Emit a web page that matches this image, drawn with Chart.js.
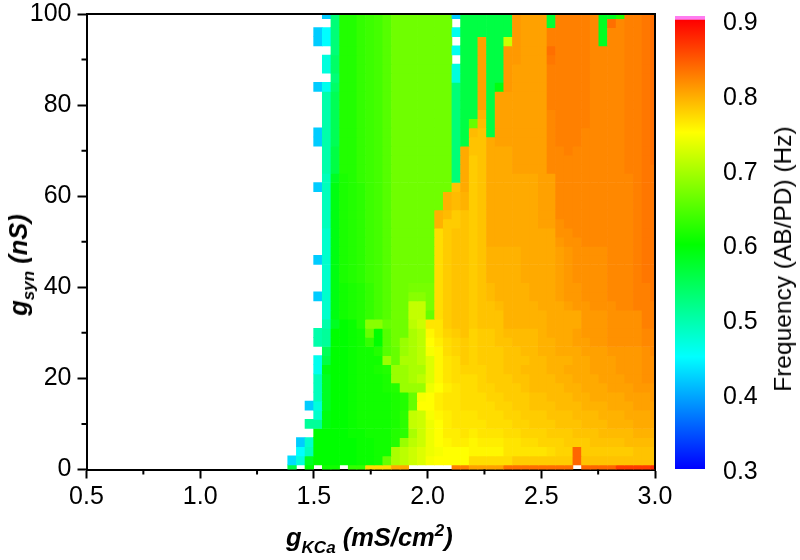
<!DOCTYPE html>
<html>
<head>
<meta charset="utf-8">
<script src="https://cdn.jsdelivr.net/npm/chart.js@4"></script>
<style>
  html, body { margin: 0; padding: 0; background: #fff; }
  #wrap { position: relative; width: 800px; height: 560px; overflow: hidden; font-family: "Liberation Sans", sans-serif; }
  canvas { position: absolute; top: 0; left: 0; }
  #barChart { left: 660px; }
  .axis_title { position: absolute; font-weight: bold; font-style: italic; font-size: 25.5px; white-space: nowrap; color: #000; line-height: 30px; }
  .axis_title sub { font-size: 17px; line-height: 0; vertical-align: -7px; }
  .axis_title sup { font-size: 17px; line-height: 0; vertical-align: 10px; }
  #xTitle { left: 286px; top: 522px; }
  #yTitle { left: 18px; top: 265px; transform: translate(-50%, -50%) rotate(-90deg); }
  #barTitle { position: absolute; left: 783px; top: 259px; font-size: 24.5px; line-height: 30px; white-space: nowrap; color: #000; transform: translate(-50%, -50%) rotate(-90deg); }
</style>
</head>
<body>
<div id="wrap">
  <canvas id="mapChart" width="800" height="560"></canvas>
  <canvas id="barChart" width="140" height="560"></canvas>
  <div class="axis_title" id="xTitle">g<sub>KCa</sub> (mS/cm<sup>2</sup>)</div>
  <div class="axis_title" id="yTitle">g<sub>syn</sub> (nS)</div>
  <div id="barTitle">Frequency (AB/PD) (Hz)</div>
</div>
<script>
const n = null;
const g_kca = [1.404,1.442,1.48,1.518,1.556,1.594,1.632,1.67,1.708,1.746,1.784,1.822,1.86,1.898,1.936,1.974,2.012,2.05,2.088,2.126,2.164,2.202,2.24,2.278,2.316,2.354,2.392,2.43,2.468,2.506,2.544,2.582,2.62,2.658,2.696,2.734,2.772,2.81,2.848,2.886,2.924,2.962,3.0];

// frequency per row, one array per g_syn value, columns follow g_kca
const syn100 = [n,n,n,n,.42,.53,.62,.62,.63,.635,.64,.65,.665,.665,.665,.665,.665,.665,.665,.42,.56,.56,.56,.56,.56,.56,.81,.805,.805,.805,.57,.825,.825,.825,.825,.82,.58,.58,.62,.825,.825,.83,.835];
const syn98 = [n,n,n,n,n,.53,.62,.62,.63,.635,.64,.65,.665,.665,.665,.665,.665,.665,.665,n,.56,.56,.56,.56,.56,.56,.81,.805,.805,.805,.57,.825,.825,.825,.825,.82,.58,.835,.82,.825,.825,.83,.835];
const syn96 = [n,n,n,.42,.45,.53,.62,.62,.63,.635,.64,.65,.665,.665,.665,.665,.665,.665,.665,.46,.56,.56,.56,.56,.56,.56,.81,.805,.805,.805,.825,.825,.825,.825,.825,.82,.58,.82,.82,.825,.825,.83,.835];
const syn94 = [n,n,n,.42,.45,.53,.62,.62,.63,.635,.64,.65,.665,.665,.665,.665,.665,.665,.665,n,.56,.56,.805,.56,.56,.72,.81,.805,.805,.805,.825,.825,.825,.825,.825,.82,.58,.82,.82,.825,.825,.83,.835];
const syn92 = [n,n,n,n,n,.53,.62,.62,.63,.635,.64,.65,.665,.665,.665,.665,.665,.665,.665,.46,.56,.56,.805,.56,.56,.81,.81,.805,.805,.805,.835,.825,.825,.825,.825,.82,.82,.82,.82,.825,.825,.83,.835];
const syn90 = [n,n,n,n,.47,.54,.62,.62,.63,.635,.64,.65,.665,.665,.665,.665,.665,.665,.665,n,.56,.56,.805,.56,.56,.81,.81,.805,.805,.805,.83,.825,.825,.825,.825,.82,.82,.82,.82,.825,.825,.83,.835];
const syn88 = [n,n,n,n,.47,.54,.62,.62,.63,.635,.64,.65,.665,.665,.665,.665,.665,.665,.665,.47,.56,.56,.805,.56,.56,.81,.805,.805,.805,.805,.825,.825,.825,.825,.825,.82,.82,.82,.82,.825,.825,.83,.835];
const syn86 = [n,n,n,n,n,.53,.62,.62,.63,.635,.64,.65,.665,.665,.665,.665,.665,.665,.665,.47,.56,.56,.805,.56,.56,.81,.805,.805,.805,.805,.825,.825,.825,.825,.825,.82,.82,.82,.82,.825,.825,.83,.835];
const syn84 = [n,n,n,.42,.46,.54,.62,.62,.63,.635,.64,.65,.665,.665,.665,.665,.665,.665,.665,.53,.56,.56,.805,.56,.59,.81,.805,.805,.805,.805,.825,.825,.825,.825,.825,.82,.82,.82,.82,.825,.825,.83,.835];
const syn82 = [n,n,n,n,.5,.55,.62,.62,.63,.635,.64,.65,.665,.665,.665,.665,.665,.665,.665,.53,.56,.56,.805,.56,.805,.805,.805,.805,.805,.805,.825,.825,.825,.825,.825,.82,.82,.82,.82,.825,.825,.83,.835];
const syn80 = [n,n,n,n,.5,.55,.62,.62,.63,.635,.64,.65,.665,.665,.665,.665,.665,.665,.665,.53,.56,.56,.805,.56,.805,.805,.805,.805,.805,.805,.825,.825,.825,.825,.825,.82,.82,.82,.82,.825,.825,.83,.835];
const syn78 = [n,n,n,n,.5,.55,.62,.62,.63,.635,.64,.65,.665,.665,.665,.665,.665,.665,.665,.53,.56,.56,.795,.56,.805,.805,.805,.805,.805,.805,.82,.825,.825,.825,.825,.82,.82,.82,.82,.825,.825,.83,.835];
const syn76 = [n,n,n,n,.5,.55,.62,.62,.63,.635,.64,.65,.665,.665,.665,.665,.665,.665,.665,.53,.56,.66,.79,.56,.805,.805,.805,.805,.805,.805,.82,.825,.825,.825,.825,.82,.82,.82,.82,.825,.825,.83,.835];
const syn74 = [n,n,n,.42,.5,.55,.62,.62,.63,.635,.64,.65,.665,.665,.665,.665,.665,.665,.665,.53,.56,.79,.785,.56,.805,.805,.805,.805,.805,.805,.82,.825,.825,.825,.82,.82,.82,.82,.82,.825,.825,.83,.835];
const syn72 = [n,n,n,.42,.5,.55,.62,.62,.63,.635,.64,.65,.665,.665,.665,.665,.665,.665,.665,.53,.56,.785,.785,.80,.805,.805,.805,.805,.805,.805,.82,.825,.825,.825,.82,.82,.82,.82,.82,.825,.825,.83,.835];
const syn70 = [n,n,n,n,.5,.56,.62,.62,.63,.635,.64,.65,.665,.665,.665,.665,.665,.665,.665,.53,.80,.785,.785,.80,.80,.80,.805,.805,.805,.805,.82,.82,.825,.82,.82,.82,.82,.82,.82,.825,.825,.83,.835];
const syn68 = [n,n,n,n,.5,.56,.62,.62,.63,.635,.64,.65,.665,.665,.665,.665,.665,.665,.665,.53,.80,.78,.785,.80,.80,.80,.805,.805,.805,.805,.82,.82,.82,.82,.82,.82,.82,.82,.82,.825,.825,.83,.835];
const syn66 = [n,n,n,n,.5,.56,.62,.62,.63,.635,.64,.65,.665,.665,.665,.665,.665,.665,.665,.53,.80,.78,.785,.80,.80,.80,.805,.805,.805,.805,.82,.82,.82,.82,.82,.82,.82,.82,.82,.825,.825,.83,.83];
const syn64 = [n,n,n,n,.49,.58,.615,.62,.63,.635,.64,.65,.665,.665,.665,.665,.665,.665,.665,.53,.80,.78,.785,.80,.80,.80,.80,.80,.80,.805,.805,.82,.82,.82,.82,.82,.82,.82,.82,.82,.825,.83,.83];
const syn62 = [n,n,n,.42,.49,.59,.615,.62,.625,.635,.64,.65,.665,.665,.665,.665,.665,.665,.665,.785,.80,.78,.785,.80,.80,.80,.80,.80,.80,.805,.805,.82,.82,.82,.82,.82,.82,.82,.82,.82,.825,.83,.83];
const syn60 = [n,n,n,n,.49,.59,.615,.62,.625,.635,.64,.65,.665,.665,.665,.665,.665,.665,.795,.79,.795,.78,.785,.80,.80,.80,.80,.80,.80,.805,.805,.82,.82,.82,.82,.82,.82,.82,.82,.82,.825,.83,.83];
const syn58 = [n,n,n,n,.49,.59,.615,.62,.625,.635,.64,.65,.665,.665,.665,.665,.665,.665,.795,.79,.795,.78,.785,.80,.80,.80,.80,.80,.80,.805,.805,.82,.82,.82,.82,.82,.82,.82,.82,.82,.825,.83,.83];
const syn56 = [n,n,n,n,.49,.59,.615,.62,.625,.635,.64,.65,.665,.665,.665,.665,.665,.795,.79,.78,.785,.78,.785,.80,.80,.80,.80,.80,.80,.805,.805,.82,.82,.82,.82,.82,.82,.82,.82,.82,.825,.83,.83];
const syn54 = [n,n,n,n,.49,.59,.615,.62,.625,.635,.64,.65,.665,.665,.665,.665,.665,.795,.78,.78,.785,.78,.785,.80,.80,.80,.80,.80,.80,.805,.805,.815,.82,.82,.82,.82,.82,.82,.82,.82,.825,.83,.83];
const syn52 = [n,n,n,n,.48,.59,.615,.62,.625,.635,.64,.65,.665,.665,.665,.665,.665,.77,.78,.785,.785,.78,.785,.80,.80,.80,.80,.80,.80,.80,.80,.815,.815,.82,.82,.82,.82,.82,.82,.82,.825,.83,.83];
const syn50 = [n,n,n,n,.48,.59,.615,.62,.625,.635,.64,.65,.665,.665,.665,.665,.665,.77,.78,.785,.785,.78,.785,.80,.80,.80,.80,.80,.80,.80,.80,.81,.815,.815,.82,.82,.82,.82,.82,.82,.825,.83,.83];
const syn48 = [n,n,n,n,.48,.59,.615,.62,.625,.635,.64,.65,.665,.665,.665,.665,.665,.77,.78,.785,.785,.78,.785,.795,.795,.795,.795,.80,.80,.80,.80,.805,.81,.815,.815,.815,.815,.82,.82,.82,.825,.83,.83];
const syn46 = [n,n,n,.42,.48,.59,.615,.62,.625,.635,.64,.65,.665,.665,.665,.665,.665,.77,.78,.785,.785,.78,.785,.795,.795,.795,.795,.80,.80,.80,.80,.805,.81,.815,.815,.815,.815,.82,.82,.82,.825,.83,.83];
const syn44 = [n,n,n,n,.48,.59,.615,.62,.625,.635,.64,.65,.665,.665,.665,.665,.665,.77,.78,.785,.785,.78,.785,.795,.795,.795,.795,.80,.80,.80,.80,.805,.81,.815,.815,.815,.815,.82,.82,.82,.825,.83,.83];
const syn42 = [n,n,n,n,.48,.59,.615,.62,.625,.635,.64,.65,.665,.665,.665,.665,.665,.77,.78,.785,.785,.78,.785,.795,.795,.795,.795,.80,.80,.80,.80,.805,.81,.815,.815,.815,.815,.82,.82,.82,.825,.83,.83];
const syn40 = [n,n,n,n,.48,.59,.61,.615,.62,.63,.64,.65,.665,.665,.67,.67,.67,.77,.78,.785,.785,.78,.785,.79,.795,.795,.795,.795,.80,.80,.80,.805,.81,.81,.815,.815,.815,.82,.82,.82,.825,.825,.83];
const syn38 = [n,n,n,.42,.48,.59,.61,.615,.62,.63,.64,.65,.665,.665,.68,.68,.67,.77,.78,.785,.785,.78,.785,.79,.795,.795,.795,.795,.80,.80,.80,.805,.81,.81,.815,.815,.815,.82,.82,.82,.825,.825,.83];
const syn36 = [n,n,n,n,.48,.59,.61,.615,.62,.63,.64,.65,.665,.665,.715,.715,.67,.77,.78,.785,.785,.78,.785,.785,.79,.795,.795,.795,.795,.80,.80,.80,.805,.81,.81,.815,.815,.815,.82,.82,.825,.825,.825];
const syn34 = [n,n,n,n,.48,.59,.61,.615,.62,.63,.64,.65,.665,.665,.715,.715,.66,.77,.78,.785,.785,.78,.785,.785,.785,.795,.795,.795,.795,.795,.80,.80,.80,.80,.81,.81,.81,.815,.815,.815,.815,.825,.825];
const syn32 = [n,n,n,n,.5,.58,.60,.605,.62,.68,.68,.66,.665,.665,.71,.72,.765,.765,.78,.785,.785,.78,.785,.785,.785,.795,.795,.795,.795,.795,.80,.80,.80,.80,.81,.81,.81,.815,.815,.815,.815,.825,.825];
const syn30 = [n,n,n,.5,.51,.60,.60,.605,.61,.66,.60,.65,.665,.665,.70,.71,.755,.765,.775,.78,.785,.775,.78,.78,.785,.79,.79,.79,.79,.795,.80,.80,.80,.805,.81,.81,.81,.815,.815,.815,.815,.82,.82];
const syn28 = [n,n,n,.5,.51,.60,.60,.605,.61,.63,.60,.65,.665,.69,.70,.71,.75,.76,.77,.775,.78,.775,.78,.78,.785,.785,.79,.79,.79,.795,.795,.80,.80,.805,.805,.81,.81,.815,.815,.815,.815,.82,.82];
const syn26 = [n,n,n,n,.55,.60,.60,.605,.61,.61,.62,.65,.66,.69,.70,.71,.745,.755,.77,.775,.78,.775,.78,.78,.78,.785,.785,.79,.79,.795,.795,.80,.80,.80,.805,.805,.805,.81,.81,.81,.81,.815,.82];
const syn24 = [n,n,n,.46,.56,.60,.60,.605,.61,.61,.61,.69,.66,.70,.70,.71,.73,.755,.765,.77,.78,.775,.78,.78,.78,.785,.785,.785,.79,.79,.795,.795,.795,.80,.80,.805,.805,.805,.81,.81,.81,.815,.815];
const syn22 = [n,n,n,.46,.59,.60,.60,.605,.61,.61,.615,.62,.69,.69,.70,.70,.73,.755,.765,.77,.775,.775,.775,.78,.78,.785,.785,.79,.79,.79,.795,.795,.80,.80,.80,.805,.805,.805,.81,.81,.81,.815,.815];
const syn20 = [n,n,n,.49,.58,.60,.60,.605,.61,.61,.61,.615,.69,.69,.70,.71,.73,.755,.765,.77,.77,.77,.775,.78,.78,.78,.785,.785,.79,.79,.79,.795,.795,.80,.80,.80,.805,.805,.805,.81,.81,.815,.815];
const syn18 = [n,n,n,.49,.58,.60,.60,.605,.61,.61,.61,.615,.62,.69,.69,.69,.74,.75,.76,.765,.77,.77,.775,.775,.78,.78,.78,.785,.79,.79,.79,.79,.795,.795,.80,.80,.80,.805,.805,.805,.81,.81,.81];
const syn16 = [n,n,n,.49,.58,.60,.60,.605,.61,.61,.61,.61,.615,.62,.66,.745,.75,.76,.765,.765,.77,.77,.77,.775,.775,.78,.78,.78,.785,.785,.79,.79,.79,.795,.795,.80,.80,.80,.80,.805,.805,.805,.81];
const syn14 = [n,n,.42,.47,.58,.60,.60,.605,.61,.61,.61,.61,.615,.62,.66,.75,.75,.76,.765,.765,.77,.77,.77,.77,.775,.775,.78,.78,.785,.785,.785,.79,.79,.79,.795,.795,.795,.80,.80,.80,.805,.805,.805];
const syn12 = [n,n,n,.48,.59,.60,.60,.605,.61,.61,.61,.61,.615,.625,.715,.72,.745,.755,.76,.765,.765,.765,.77,.77,.77,.775,.775,.78,.78,.78,.785,.785,.785,.79,.79,.79,.795,.795,.795,.80,.80,.80,.805];
const syn10 = [n,n,.51,.51,.59,.60,.60,.605,.61,.61,.61,.61,.615,.625,.715,.72,.74,.75,.76,.765,.765,.765,.765,.77,.77,.77,.775,.775,.78,.78,.78,.785,.785,.785,.79,.79,.79,.795,.795,.795,.80,.80,.80];
const syn8 = [n,n,n,.60,.60,.60,.60,.605,.605,.61,.61,.61,.62,.625,.70,.72,.74,.75,.76,.76,.765,.76,.765,.765,.765,.77,.77,.775,.775,.775,.78,.78,.78,.785,.785,.785,.79,.79,.79,.79,.795,.795,.795];
const syn6 = [n,.42,.48,.60,.60,.60,.60,.60,.605,.605,.61,.61,.62,.69,.71,.72,.74,.75,.755,.76,.76,.755,.76,.76,.76,.765,.765,.77,.77,.775,.775,.775,.78,.78,.78,.785,.785,.785,.785,.79,.79,.79,.79];
const syn4 = [n,.45,.49,.60,.60,.60,.60,.60,.605,.605,.61,.61,.70,.71,.72,.73,.74,.745,.75,.75,.75,.755,.755,.755,.755,.765,.765,.765,.765,.765,.77,.775,.775,.84,.78,.78,.78,.78,.78,.78,.785,.785,.785];
const syn2 = [.43,.47,.58,.60,.60,.60,.60,.60,.605,.605,.61,.66,.70,.71,.72,.73,.745,.75,.75,.75,.75,.77,.77,.77,.77,.77,.78,.78,.78,.78,.78,.78,.78,.84,.785,.785,.785,.785,.785,.785,.785,.785,.785];
const syn0 = [.56,n,.60,n,.61,.61,n,.63,.63,.77,.77,.77,.80,.80,n,n,n,n,n,.825,.825,.805,.805,.805,.805,.835,.835,.835,.835,.835,.835,.835,.835,n,.84,.84,.84,.84,.865,.865,.865,.865,.875];

const g_syn = [0,2,4,6,8,10,12,14,16,18,20,22,24,26,28,30,32,34,36,38,40,42,44,46,48,50,52,54,56,58,60,62,64,66,68,70,72,74,76,78,80,82,84,86,88,90,92,94,96,98,100];
const syn_rows = [syn0,syn2,syn4,syn6,syn8,syn10,syn12,syn14,syn16,syn18,syn20,syn22,syn24,syn26,syn28,syn30,syn32,syn34,syn36,syn38,syn40,syn42,syn44,syn46,syn48,syn50,syn52,syn54,syn56,syn58,syn60,syn62,syn64,syn66,syn68,syn70,syn72,syn74,syn76,syn78,syn80,syn82,syn84,syn86,syn88,syn90,syn92,syn94,syn96,syn98,syn100];

const x_ticks_minor = [0.75,1.25,1.75,2.25,2.75];
const y_ticks_minor = [10,30,50,70,90];
const color_stops = [0.3,0.45,0.6,0.75,0.9];
const color_list = ['#0000ff','#00ffff','#00ff00','#ffff00','#ff0000'];
const over_range = [0.9,0.9055];

function hexToRgb(hex) {
  return [1,3,5].map(i => parseInt(hex.substr(i,2),16));
}

function freqColor(v) {
  for(let i = 0; i < color_stops.length - 1; i++) {
    if(v <= color_stops[i+1]) {
      let t = (v - color_stops[i]) / (color_stops[i+1] - color_stops[i]);
      let a = hexToRgb(color_list[i]), b = hexToRgb(color_list[i+1]);
      return 'rgb(' + a.map((c,k) => Math.round(c + (b[k]-c)*t)).join(',') + ')';
    }
  }
  return color_list[color_list.length-1];
}

// floating bars, one per cell
let cells = [];
syn_rows.forEach((row, r) => {
  row.forEach((v, c) => {
    if(v !== null) cells.push({ x: g_kca[c], y: [g_syn[r]-1, g_syn[r]+1], v: v });
  });
});

const tickFont = { family: '"Liberation Sans"', size: 25 };

const frameAndMinor = {
  id: 'frameAndMinor',
  afterDraw(chart) {
    const { ctx, chartArea, scales } = chart;
    ctx.save();
    ctx.strokeStyle = '#000';
    ctx.lineWidth = 2;
    ctx.beginPath();
    ctx.moveTo(chartArea.left, chartArea.top);
    ctx.lineTo(chartArea.right, chartArea.top);
    ctx.lineTo(chartArea.right, chartArea.bottom);
    x_ticks_minor.forEach(v => {
      let px = scales.x.getPixelForValue(v);
      ctx.moveTo(px, chartArea.bottom);
      ctx.lineTo(px, chartArea.bottom + 5);
    });
    y_ticks_minor.forEach(v => {
      let py = scales.y.getPixelForValue(v);
      ctx.moveTo(chartArea.left, py);
      ctx.lineTo(chartArea.left - 5, py);
    });
    ctx.stroke();
    ctx.restore();
  }
};

new Chart(document.getElementById('mapChart'), {
  type: 'bar',
  data: {
    datasets: [{
      data: cells,
      backgroundColor: (c) => c.raw ? freqColor(c.raw.v) : 'transparent',
      borderWidth: 0,
      barPercentage: 1,
      categoryPercentage: 1
    }]
  },
  options: {
    responsive: false,
    animation: false,
    layout: { padding: { top: 14, right: 145 } },
    plugins: { legend: { display: false }, tooltip: { enabled: false } },
    scales: {
      x: {
        type: 'linear',
        offset: false,
        min: 0.5,
        max: 3,
        afterFit: (s) => { s.height = 90.5; s.paddingLeft = 0; s.paddingRight = 0; },
        ticks: { stepSize: 0.5, color: '#000', font: tickFont, padding: 4, maxRotation: 0, callback: (v) => v.toFixed(1) },
        grid: { offset: false, drawOnChartArea: false, tickLength: 9, tickColor: '#000', tickWidth: 2 },
        border: { color: '#000', width: 2 }
      },
      y: {
        min: 0,
        max: 100,
        afterFit: (s) => { s.width = 86.5; s.paddingTop = 0; s.paddingBottom = 0; },
        ticks: { stepSize: 20, color: '#000', font: tickFont, padding: 6 },
        grid: { drawOnChartArea: false, tickLength: 9, tickColor: '#000', tickWidth: 2 },
        border: { color: '#000', width: 2 }
      }
    }
  },
  plugins: [frameAndMinor]
});

new Chart(document.getElementById('barChart'), {
  type: 'bar',
  data: {
    labels: [''],
    datasets: [{
      data: [[color_stops[0], color_stops[color_stops.length-1]]],
      backgroundColor: (c) => {
        const { ctx, chartArea, scales } = c.chart;
        if(!chartArea || !scales.y) return color_list[0];
        let y0 = scales.y.getPixelForValue(color_stops[0]);
        let y1 = scales.y.getPixelForValue(color_stops[color_stops.length-1]);
        if(!isFinite(y0) || !isFinite(y1)) return color_list[0];
        let grad = ctx.createLinearGradient(0, y0, 0, y1);
        color_stops.forEach((s, i) => grad.addColorStop(i / (color_stops.length-1), color_list[i]));
        return grad;
      },
      borderWidth: 0
    }, {
      data: [over_range],
      backgroundColor: '#ff7cf0',
      borderWidth: 0
    }]
  },
  options: {
    responsive: false,
    animation: false,
    layout: { padding: { left: 15, top: 16, bottom: 91 } },
    datasets: { bar: { grouped: false, barPercentage: 1, categoryPercentage: 1 } },
    plugins: { legend: { display: false }, tooltip: { enabled: false } },
    scales: {
      x: { display: false },
      y: {
        position: 'right',
        min: 0.3,
        max: over_range[1],
        afterFit: (s) => { s.width = 95; s.paddingTop = 0; s.paddingBottom = 0; },
        ticks: { stepSize: 0.1, includeBounds: false, color: '#000', font: tickFont, padding: 10, labelOffset: 3, callback: (v) => v.toFixed(1) },
        grid: { display: false },
        border: { display: false }
      }
    }
  }
});
</script>
</body>
</html>
